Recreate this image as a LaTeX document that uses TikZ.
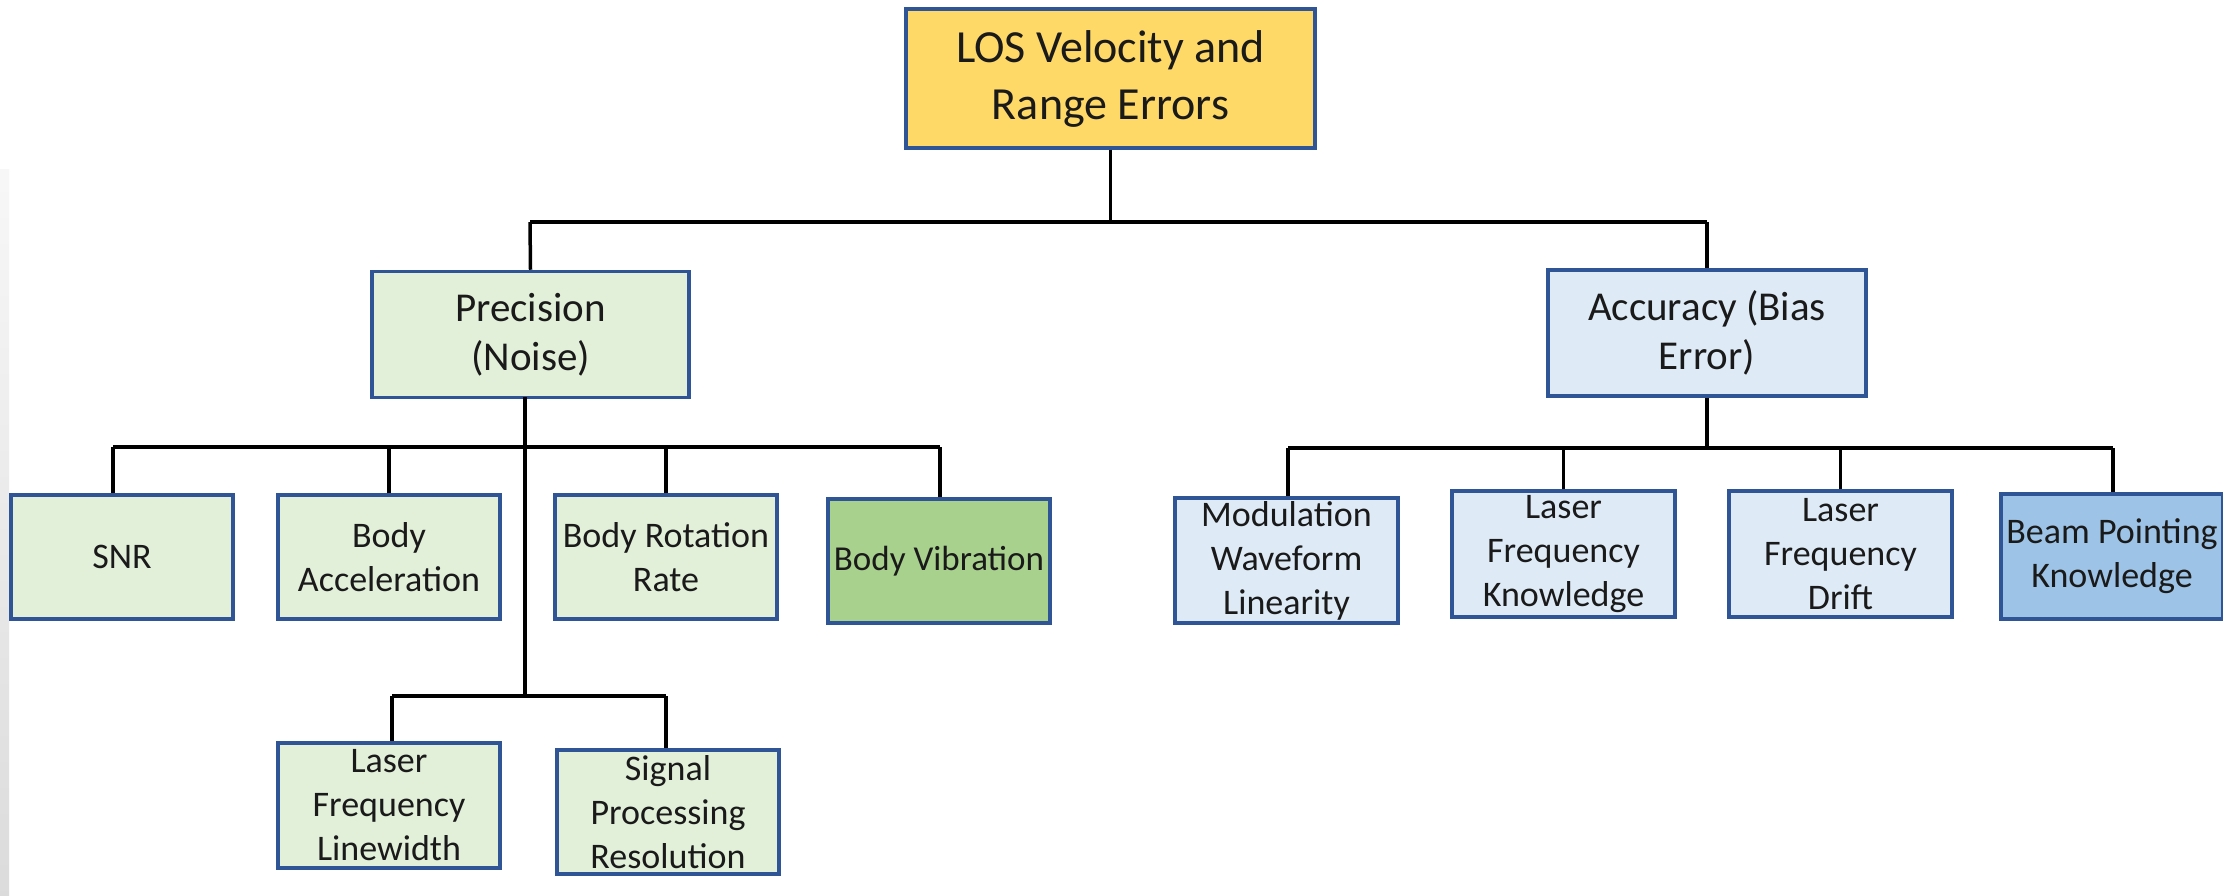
\documentclass[tikz,border=0pt]{standalone}
\usepackage{fontspec}
\setmainfont{Carlito}
\definecolor{bordc}{HTML}{2F5597}
\definecolor{txt}{HTML}{1A1A1A}
\definecolor{gold}{HTML}{FED967}
\definecolor{lgreen}{HTML}{E2F0D9}
\definecolor{dgreen}{HTML}{A9D18E}
\definecolor{lblue}{HTML}{DEEBF7}
\definecolor{dblue}{HTML}{9DC3E6}
\begin{document}
\begin{tikzpicture}[x=1pt,y=-1pt,
  box/.style={draw=bordc, line width=3.5pt, align=center, inner sep=0pt, text=txt,
    minimum width=222pt, minimum height=125pt, font=\fontsize{36}{44}\selectfont},
  gbox/.style={box, fill=lgreen},
  bbox/.style={box, fill=lblue},
  midbox/.style={font=\fontsize{41}{49}\selectfont, minimum height=126pt},
  conn/.style={line width=3.5pt, draw=black},
  bus/.style={line width=4.5pt, draw=black}]
\useasboundingbox (0,0) rectangle (2223,896);
\fill[white] (0,0) rectangle (2223,896);
\shade[top color=white!97!black, bottom color=white!86!black] (0,170) rectangle (9,896);

% nodes
\node[box, fill=gold, minimum width=409pt, minimum height=139pt, font=\fontsize{46}{57}\selectfont] (top) at (1110.5,78.5) {LOS Velocity and\\Range Errors};
\node[gbox, midbox, minimum width=317pt] (prec) at (530.5,334.5) {Precision\\(Noise)};
\node[bbox, midbox, minimum width=318pt] (acc) at (1707,333) {Accuracy (Bias\\Error)};

\node[gbox, minimum height=124pt] (snr) at (122,557) {SNR};
\node[gbox, minimum height=124pt] (bacc) at (389,557) {Body\\Acceleration};
\node[gbox, minimum height=124pt] (brot) at (666,557) {Body Rotation\\Rate};
\node[box, fill=dgreen, minimum height=124pt, font=\fontsize{35}{43}\selectfont] (bvib) at (939,561) {Body Vibration};
\node[gbox] (lfl) at (389,805.5) {Laser\\Frequency\\Linewidth};
\node[gbox, minimum height=124pt] (spr) at (668,812) {Signal\\Processing\\Resolution};

\node[bbox, minimum width=223pt] (mwl) at (1286.5,560.5) {Modulation\\Waveform\\Linearity};
\node[bbox, minimum width=223pt, minimum height=126pt] (lfk) at (1563.5,554) {Laser\\Frequency\\Knowledge};
\node[bbox, minimum width=223pt, minimum height=126pt] (lfd) at (1840.5,554) {Laser\\Frequency\\Drift};
\node[box, fill=dblue] (bpk) at (2112,556.5) {Beam Pointing\\Knowledge};

% bus coordinates
\coordinate (t1) at (530,222);
\coordinate (t2) at (1707,222);
\coordinate (pb1) at (113,447);
\coordinate (pb2) at (940,447);
\coordinate (ps) at (525,397);
\coordinate (sb1) at (392,696);
\coordinate (sb2) at (666,696);
\coordinate (ab1) at (1288,448);
\coordinate (ab2) at (2113,448);

% top level
\draw[conn] (top.south) -- (top.south |- t1);
\draw[bus] (t1) -- (t2);
\draw[conn] (t1) -- (prec.north);
\draw[conn] (t2) -- (acc.north);

% precision branch
\draw[conn] (ps) -- (ps |- sb1);
\draw[bus] (pb1) -- (pb2);
\draw[conn] (pb1) -- (pb1 |- snr.north);
\draw[conn] (bacc.north) -- (bacc.north |- pb1);
\draw[conn] (brot.north) -- (brot.north |- pb1);
\draw[conn] (pb2) -- (pb2 |- bvib.north);
\draw[bus] (sb1) -- (sb2);
\draw[conn] (sb1) -- (sb1 |- lfl.north);
\draw[conn] (sb2) -- (sb2 |- spr.north);

% accuracy branch
\draw[conn] (acc.south) -- (acc.south |- ab1);
\draw[bus] (ab1) -- (ab2);
\draw[conn] (ab1) -- (ab1 |- mwl.north);
\draw[conn] (lfk.north) -- (lfk.north |- ab1);
\draw[conn] (lfd.north) -- (lfd.north |- ab1);
\draw[conn] (ab2) -- (ab2 |- bpk.north);
\end{tikzpicture}
\end{document}
